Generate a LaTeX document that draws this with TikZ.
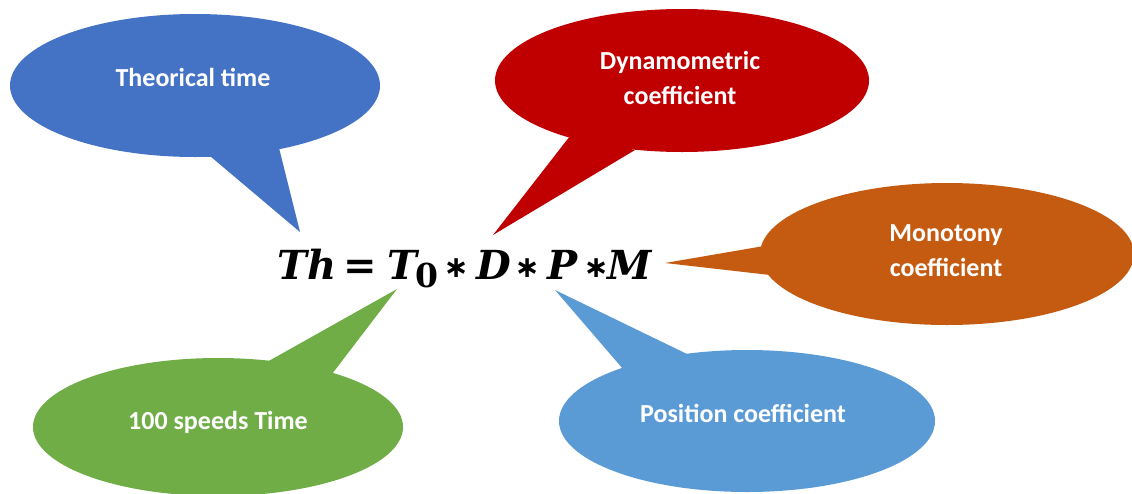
\documentclass[tikz,border=0pt]{standalone}
\usepackage{fontspec}
\setmainfont{Carlito}
\newfontfamily\fserif{DejaVu Serif}
\newfontfamily\fsans{DejaVu Sans}
\usetikzlibrary{shapes.geometric}
\definecolor{cblue}{HTML}{4472C4}
\definecolor{cred}{HTML}{C00000}
\definecolor{corange}{HTML}{C55A11}
\definecolor{cgreen}{HTML}{70AD47}
\definecolor{clblue}{HTML}{5B9BD5}
\newcommand{\fmain}{\fserif\bfseries\fontsize{40}{48}\selectfont}
\newcommand{\fsub}{\fserif\bfseries\fontsize{33}{40}\selectfont}
\newcommand{\fstar}{\raisebox{2pt}{\fsans\fontsize{30}{36}\selectfont ∗}}
\newcommand{\gat}[2]{\makebox[0pt][l]{\hspace*{#1pt}\makebox[0pt]{#2}}}
\begin{document}
\begin{tikzpicture}[x=1pt,y=-1pt,
  bubble/.style={ellipse, inner sep=0pt, draw=none},
  lbl/.style={text=white, font=\fontsize{26}{35}\selectfont\bfseries, align=center}]
\useasboundingbox (0,0) rectangle (1132,493);
% Theorical time
\node[bubble, fill=cblue, minimum width=370pt, minimum height=143pt] (b1) at (195,85.5) {};
\coordinate (t1) at (300,232);
\fill[cblue] (210,156) -- (t1) -- (279,148) -- cycle;
\node[lbl] (l1) at (193,77) {Theorical time};
% Dynamometric
\node[bubble, fill=cred, minimum width=374pt, minimum height=143pt] (b2) at (682,80.5) {};
\coordinate (t2) at (493,235);
\fill[cred] (570,136) -- (t2) -- (635,150) -- cycle;
\node[lbl] (l2) at (680,77.5) {Dynamometric\\coefficient};
% Monotony
\node[bubble, fill=corange, minimum width=374pt, minimum height=142pt] (b3) at (947,254) {};
\coordinate (t3) at (665,263);
\fill[corange] (764,246) -- (t3) -- (770,275) -- cycle;
\node[lbl] (l3) at (946,250.5) {Monotony\\coefficient};
% 100 speeds
\node[bubble, fill=cgreen, minimum width=370pt, minimum height=138pt] (b4) at (218,427) {};
\coordinate (t4) at (397,289);
\fill[cgreen] (267,362) -- (t4) -- (332,374) -- cycle;
\node[lbl] (l4) at (218,422) {100 speeds Time};
% Position
\node[bubble, fill=clblue, minimum width=376pt, minimum height=142pt] (b5) at (747,421) {};
\coordinate (t5) at (555,290);
\fill[clblue] (623,369) -- (t5) -- (687,354) -- cycle;
\node[lbl] (l5) at (743,413) {Position coefficient};
% formula
\node[anchor=base west, inner sep=0pt] (f) at (282,279) {\fmain
  \gat{25}{\itshape Th}\gat{78}{=}\gat{120}{\itshape T}\gat{145}{\fsub\raisebox{-8pt}{0}}%
  \gat{174}{\fstar}\gat{211.5}{\itshape D}\gat{245}{\fstar}\gat{280.5}{\itshape P}%
  \gat{314}{\fstar}\gat{347}{\itshape M}\hspace*{368pt}};
\end{tikzpicture}
\end{document}
